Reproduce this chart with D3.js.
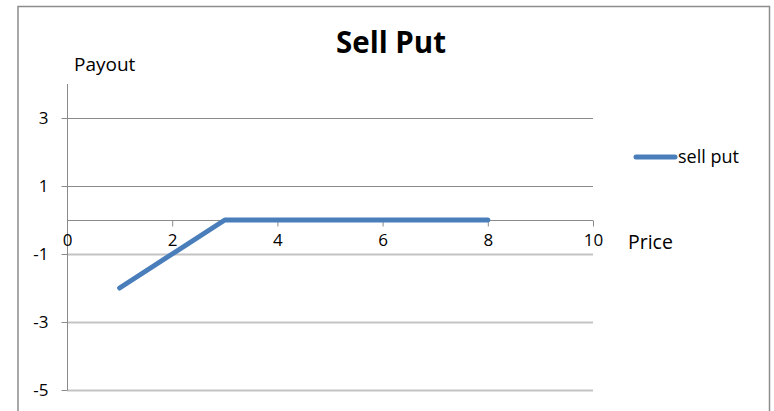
<!DOCTYPE html>
<html>
<head>
<meta charset="utf-8">
<script src="https://cdn.jsdelivr.net/npm/d3@7"></script>
<style>
html,body{margin:0;padding:0;background:#fff;}
svg{display:block;}
text{font-family:"Open Sans",Lato,sans-serif;fill:#000;}
</style>
</head>
<body>
<script>
const title = "Sell Put";
const seriesName = "sell put";
const xLabel = "Price";
const yLabel = "Payout";
const prices = [1, 2, 3, 4, 5, 6, 7, 8];
const payouts = [-2, -1, 0, 0, 0, 0, 0, 0];
const xTicks = [0, 2, 4, 6, 8, 10];
const yTicks = [-5, -3, -1, 1, 3];
const xDomain = [0, 10];
const yDomain = [-5, 4];

const W = 774, H = 411;
const svg = d3.select("body").append("svg").attr("width", W).attr("height", H);

// outer chart border
svg.append("rect").attr("x", 18).attr("y", 6.5).attr("width", 751.5).attr("height", 430)
  .attr("fill", "#fff").attr("stroke", "#8c8c8c").attr("stroke-width", 1.5);

const x = d3.scaleLinear().domain(xDomain).range([67, 593]);
const y = d3.scaleLinear().domain(yDomain).range([390, 84]);
const fmt = d => String(d);

// gridlines
svg.append("g").selectAll("line").data(yTicks).join("line")
  .attr("x1", x(0)).attr("x2", x(10))
  .attr("y1", d => Math.round(y(d)) + 0.5).attr("y2", d => Math.round(y(d)) + 0.5)
  .attr("stroke", d => d > 0 ? "#8a8a8a" : "#c4c4c4")
  .attr("stroke-width", d => d > 0 ? 1 : 1.8);

// y axis
const yAxis = d3.axisLeft(y).tickValues(yTicks).tickSize(6).tickPadding(13).tickFormat(fmt);
const gy = svg.append("g").attr("transform", `translate(${x(0) + 0.5},0)`).call(yAxis);
gy.select(".domain").attr("d", `M0,${y(4)}V${y(-5)}`).attr("stroke", "#8a8a8a");
gy.selectAll(".tick line").attr("stroke", "#8a8a8a");
gy.selectAll(".tick text").attr("font-size", 17).attr("font-family", "'Open Sans',sans-serif").attr("fill", "#000");

// x axis at y=0
const xAxis = d3.axisBottom(x).tickValues(xTicks).tickSize(6).tickPadding(7).tickFormat(fmt);
const gx = svg.append("g").attr("transform", `translate(0,${Math.round(y(0)) + 0.5})`).call(xAxis);
gx.select(".domain").attr("d", `M${x(0)},0H${x(10)}`).attr("stroke", "#8a8a8a");
gx.selectAll(".tick line").attr("stroke", "#8a8a8a");
gx.selectAll(".tick text").attr("font-size", 17).attr("font-family", "'Open Sans',sans-serif").attr("fill", "#000");

// series line
const line = d3.line().x((d, i) => x(prices[i])).y(d => y(d));
svg.append("path").datum(payouts).attr("d", line)
  .attr("fill", "none").attr("stroke", "#4a7ebb").attr("stroke-width", 5)
  .attr("stroke-linecap", "round").attr("stroke-linejoin", "round");

// title
svg.append("text").attr("x", 391).attr("y", 53).attr("text-anchor", "middle")
  .attr("font-size", 29.5).attr("font-weight", "bold").text(title);

// axis titles
svg.append("text").attr("x", 74).attr("y", 71).attr("font-size", 19).text(yLabel);
svg.append("text").attr("x", 628).attr("y", 249).attr("font-size", 19.5).text(xLabel);

// legend
const lg = svg.append("g");
lg.append("line").attr("x1", 636).attr("x2", 675).attr("y1", 157).attr("y2", 157)
  .attr("stroke", "#4a7ebb").attr("stroke-width", 5).attr("stroke-linecap", "round");
lg.append("text").attr("x", 678).attr("y", 163).attr("font-size", 18).text(seriesName);
</script>
</body>
</html>
